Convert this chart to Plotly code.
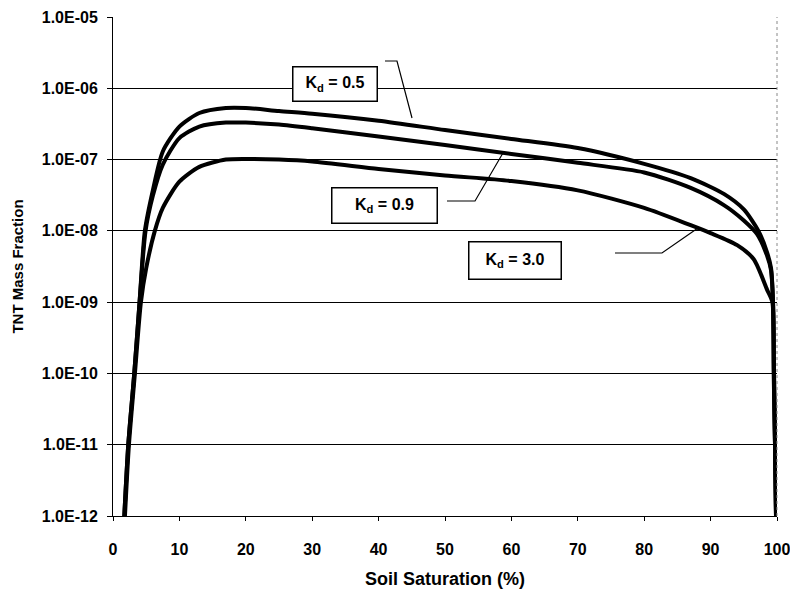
import plotly.graph_objects as go

# Soil saturation (%) and TNT mass fraction for three sorption coefficients
sat_kd05 = [1.7, 2.3, 3.2, 4.0, 4.8, 6.0, 7.5, 10, 13, 17, 20, 25, 30, 40, 50, 60, 70, 80, 87,
            92, 95, 97.2, 98.5, 99.1, 99.4, 99.55, 99.7, 99.85]
tnt_kd05 = [1e-12, 1e-11, 1e-10, 1e-9, 1e-8, 3.7e-8, 1.3e-7, 2.9e-7, 4.5e-7, 5.3e-7, 5.3e-7,
            4.8e-7, 4.4e-7, 3.5e-7, 2.6e-7, 1.95e-7, 1.45e-7, 8.7e-8, 5.5e-8,
            3.3e-8, 2.0e-8, 1.0e-8, 5e-9, 3e-9, 1e-9, 1e-10, 1e-11, 1e-12]

sat_kd09 = [1.7, 2.3, 3.2, 4.0, 4.9, 6.0, 7.5, 10, 13, 17, 20, 25, 30, 40, 50, 60, 70, 80, 87,
            92, 95, 97.0, 98.5, 99.1, 99.4, 99.55, 99.7, 99.85]
tnt_kd09 = [1e-12, 1e-11, 1e-10, 1e-9, 1e-8, 3.1e-8, 8.5e-8, 2.0e-7, 2.9e-7, 3.3e-7, 3.3e-7,
            3.1e-7, 2.75e-7, 2.1e-7, 1.6e-7, 1.2e-7, 9e-8, 6.6e-8, 4.0e-8,
            2.3e-8, 1.4e-8, 9e-9, 4.5e-9, 2.8e-9, 1e-9, 1e-10, 1e-11, 1e-12]

sat_kd30 = [1.8, 2.4, 3.3, 4.2, 5.0, 6.3, 7.5, 10, 13, 17, 20, 25, 30, 40, 50, 60, 70, 80, 87,
            90, 94, 96.5, 98.5, 99.3, 99.5, 99.7, 99.85]
tnt_kd30 = [1e-12, 1e-11, 1e-10, 1e-9, 3e-9, 1e-8, 2.1e-8, 4.9e-8, 7.9e-8, 1.0e-7, 1.02e-7,
            1.0e-7, 9.4e-8, 7.4e-8, 6.0e-8, 5.0e-8, 3.7e-8, 2.1e-8, 1.2e-8,
            9.3e-9, 6.3e-9, 4e-9, 1.5e-9, 1e-9, 1e-10, 1e-11, 1e-12]

y_tickvals = [1e-12, 1e-11, 1e-10, 1e-9, 1e-8, 1e-7, 1e-6, 1e-5]
y_ticktext = ["1.0E-12", "1.0E-11", "1.0E-10", "1.0E-09", "1.0E-08", "1.0E-07", "1.0E-06", "1.0E-05"]
x_tickvals = [0, 10, 20, 30, 40, 50, 60, 70, 80, 90, 100]

FONT = "Arial, 'Liberation Sans', sans-serif"

fig = go.Figure()
for sx, sy, name in [(sat_kd05, tnt_kd05, "Kd = 0.5"),
                     (sat_kd09, tnt_kd09, "Kd = 0.9"),
                     (sat_kd30, tnt_kd30, "Kd = 3.0")]:
    fig.add_trace(go.Scatter(x=sx, y=sy, mode="lines", name=name,
                             line=dict(color="black", width=4, shape="spline", smoothing=0.7)))

# Labelled boxes (paper coordinates)
labels = [("K<sub>d</sub> = 0.5", 0.3336, 0.9028, 83, 33),
          ("K<sub>d</sub> = 0.9", 0.4096, 0.6232, 104, 34),
          ("K<sub>d</sub> = 3.0", 0.6755, 0.5130, 91, 36)]
for text, ax, ay, w, h in labels:
    fig.add_annotation(text=text, x=ax, y=ay, xref="paper", yref="paper",
                       showarrow=False, width=w, height=h, align="center",
                       bgcolor="white", bordercolor="black", borderwidth=1.5, borderpad=0,
                       font=dict(family=FONT, size=16, color="black", weight="bold"))

# Bent leader lines from the boxes to the curves
leaders = ["M 0.4096,0.9118 L 0.4277,0.9118 L 0.4503,0.7976",
           "M 0.5030,0.6313 L 0.5452,0.6313 L 0.5873,0.7275",
           "M 0.7560,0.5271 L 0.8268,0.5271 L 0.8810,0.5772"]
for p in leaders:
    fig.add_shape(type="path", path=p, xref="paper", yref="paper",
                  line=dict(color="black", width=1.2))

# Right edge of the plot area
fig.add_shape(type="line", x0=1, x1=1, y0=0, y1=1, xref="paper", yref="paper",
              line=dict(color="#888888", width=1, dash="dot"))

fig.update_layout(
    width=790, height=589,
    margin=dict(l=113, r=13, t=17, b=73),
    paper_bgcolor="white", plot_bgcolor="white",
    showlegend=False,
    font=dict(family=FONT, color="black"),
)
fig.update_xaxes(
    range=[0, 100], tickvals=x_tickvals, ticks="outside", ticklen=4, tickcolor="black",
    showline=True, linecolor="black", linewidth=1, showgrid=False, zeroline=False,
    tickfont=dict(family=FONT, size=16, color="black", weight="bold"),
    ticklabelstandoff=15, ticklabeloverflow="allow", automargin=False,
    title=dict(text="Soil Saturation (%)", standoff=28,
               font=dict(family=FONT, size=18, color="black", weight="bold")),
)
fig.update_yaxes(
    type="log", range=[-12, -5], tickvals=y_tickvals, ticktext=y_ticktext,
    ticks="outside", ticklen=5, tickcolor="black",
    showline=True, linecolor="black", linewidth=1,
    showgrid=True, gridcolor="black", gridwidth=1, zeroline=False,
    tickfont=dict(family=FONT, size=16, color="black", weight="bold"),
    ticklabelstandoff=6, automargin=False,
    title=dict(text="TNT Mass Fraction", standoff=14,
               font=dict(family=FONT, size=15, color="black", weight="bold")),
)

fig.write_html("out.html")
